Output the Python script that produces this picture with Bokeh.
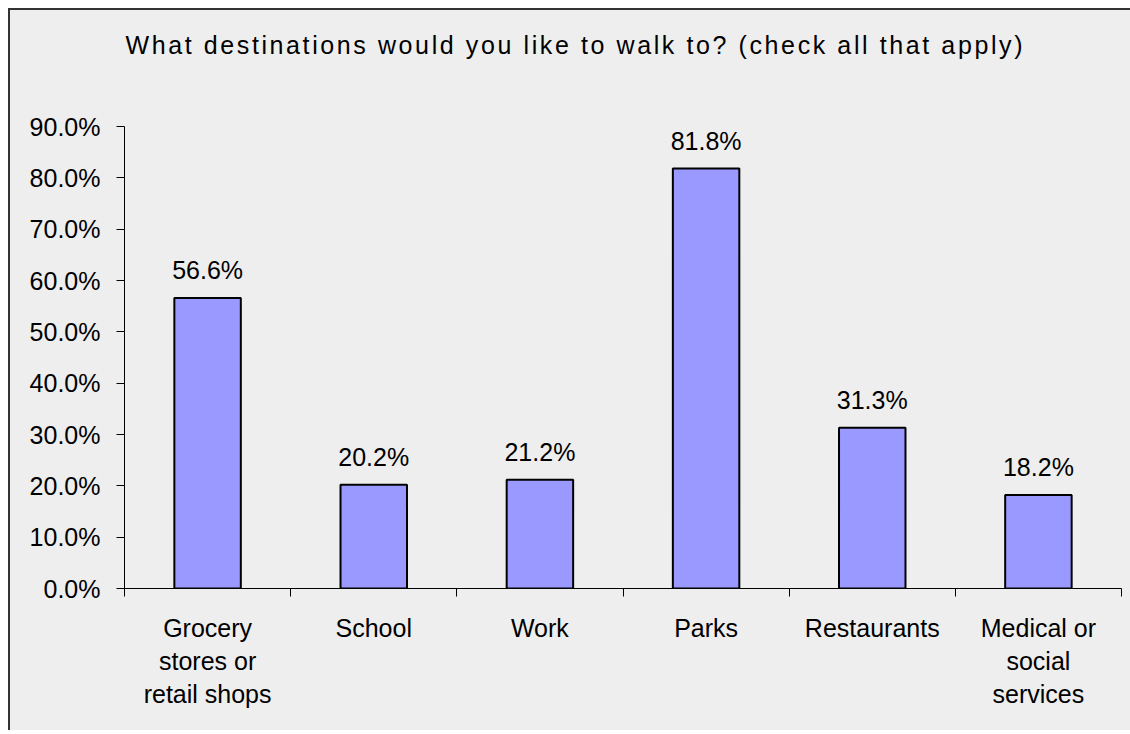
from bokeh.plotting import figure
from bokeh.layouts import column
from bokeh.models import (Range1d, FixedTicker, LinearAxis, PrintfTickFormatter,
                          ColumnDataSource, LabelSet, Label)
from bokeh.core.properties import value
from bokeh.embed import file_html
from bokeh.resources import INLINE

categories = ["Grocery\nstores or\nretail shops", "School", "Work", "Parks",
              "Restaurants", "Medical or\nsocial\nservices"]
values = [56.6, 20.2, 21.2, 81.8, 31.3, 18.2]
value_labels = ["56.6%", "20.2%", "21.2%", "81.8%", "31.3%", "18.2%"]
y_ticks = [0, 10, 20, 30, 40, 50, 60, 70, 80, 90]
title_text = "What destinations would you like to walk to? (check all that apply)"

FONT = "Liberation Sans"
BG = "#eeeeee"
n = len(categories)
centers = [i + 0.5 for i in range(n)]
boundaries = list(range(n + 1))

# ---- title strip (own figure so the title can be letter-spaced) ----
tf = figure(width=1120, height=100, output_backend="svg", toolbar_location=None,
            x_range=Range1d(0, 1), y_range=Range1d(0, 100),
            x_axis_location=None, y_axis_location=None, min_border=0)
tf.background_fill_color = BG
tf.border_fill_color = BG
tf.outline_line_color = None
tf.grid.visible = False
tf.styles = {"letter-spacing": "2.6px"}
tf.add_layout(Label(x=1, y=66, x_units="screen", text=title_text, text_align="left",
                    text_baseline="alphabetic", text_font=FONT,
                    text_font_size="25px", text_color="#000000"))

# ---- main chart ----
p = figure(width=1120, height=620, output_backend="svg", toolbar_location=None,
           x_range=Range1d(0, n), y_range=Range1d(0, 90),
           x_axis_location=None, y_axis_location=None,
           min_border_left=114, min_border_right=9, min_border_top=16,
           min_border_bottom=142)
p.background_fill_color = BG
p.border_fill_color = BG
p.outline_line_color = None
p.grid.visible = False

src = ColumnDataSource(dict(x=centers, top=values, lab=value_labels))
p.vbar(x="x", top="top", width=0.4, bottom=0, source=src,
       fill_color="#9999ff", line_color="#000000", line_width=2)

labels = LabelSet(x="x", y="top", text="lab", source=src, text_align="center",
                  text_baseline="alphabetic", y_offset=19,
                  text_font=value(FONT), text_font_size=value("25px"),
                  text_color="#000000")
p.add_layout(labels)

# y axis
yax = LinearAxis(ticker=FixedTicker(ticks=y_ticks),
                 formatter=PrintfTickFormatter(format="%.1f%%"))
yax.major_tick_out = 8
yax.major_tick_in = 0
yax.minor_tick_out = 0
yax.minor_tick_in = 0
yax.axis_line_color = "#000000"
yax.major_tick_line_color = "#000000"
yax.major_label_standoff = 16
yax.major_label_text_font = FONT
yax.major_label_text_font_size = "25px"
yax.major_label_text_color = "#000000"
p.add_layout(yax, "left")

# x axis: tick marks at category boundaries (no labels of its own)
xtick_ax = LinearAxis(ticker=FixedTicker(ticks=boundaries),
                      major_label_overrides={b: "" for b in boundaries})
xtick_ax.major_tick_out = 8
xtick_ax.major_tick_in = 0
xtick_ax.minor_tick_out = 0
xtick_ax.minor_tick_in = 0
xtick_ax.axis_line_color = "#000000"
xtick_ax.major_tick_line_color = "#000000"
xtick_ax.major_label_text_font_size = "0px"
xtick_ax.major_label_standoff = 0
p.add_layout(xtick_ax, "below")

# x axis: category labels at centres
xlab_ax = LinearAxis(ticker=FixedTicker(ticks=centers),
                     major_label_overrides={c: cat for c, cat in zip(centers, categories)})
xlab_ax.axis_line_color = None
xlab_ax.major_tick_line_color = None
xlab_ax.minor_tick_line_color = None
xlab_ax.major_tick_out = 0
xlab_ax.major_tick_in = 0
xlab_ax.major_label_standoff = 17
xlab_ax.major_label_text_font = FONT
xlab_ax.major_label_text_font_size = "25px"
xlab_ax.major_label_text_line_height = 1.19
xlab_ax.major_label_text_color = "#000000"
p.add_layout(xlab_ax, "below")

layout = column(tf, p, spacing=0,
                styles={"border-left": "2px solid #333333",
                        "border-top": "2px solid #333333",
                        "margin-left": "8px", "margin-top": "8px",
                        "background-color": BG, "overflow": "hidden",
                        "box-sizing": "content-box"})

open("out.html", "w").write(file_html(layout, INLINE))
